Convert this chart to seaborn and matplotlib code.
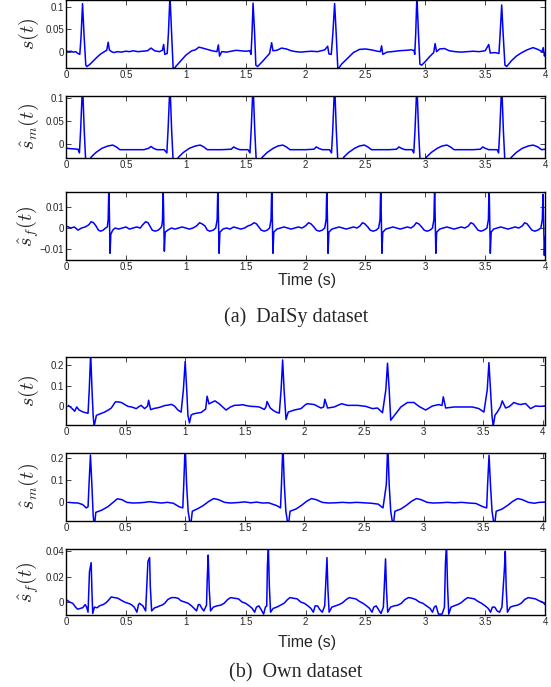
import numpy as np
import seaborn as sns
import matplotlib
matplotlib.use("Agg")
import matplotlib.pyplot as plt

# ---- (a) DaISy dataset ----
t_a1 = [0.00, 0.02, 0.04, 0.06, 0.08, 0.10, 0.115, 0.125, 0.138, 0.150, 0.165, 0.175, 0.20, 0.23, 0.26, 0.29,
        0.32, 0.34, 0.352, 0.362, 0.38, 0.40, 0.43, 0.46, 0.50, 0.53, 0.56, 0.60, 0.64, 0.68, 0.71, 0.74,
        0.78, 0.805, 0.815, 0.825, 0.845, 0.855, 0.868, 0.882, 0.895, 0.92, 0.96, 1.00, 1.05, 1.08, 1.11,
        1.14, 1.18, 1.22, 1.26, 1.272, 1.282, 1.30, 1.34, 1.38, 1.42, 1.46, 1.50, 1.535, 1.545, 1.553,
        1.562, 1.575, 1.585, 1.60, 1.64, 1.68, 1.70, 1.717, 1.728, 1.76, 1.80, 1.84, 1.88, 1.92, 1.96,
        2.00, 2.05, 2.10, 2.16, 2.185, 2.195, 2.215, 2.228, 2.243, 2.256, 2.27, 2.30, 2.35, 2.40, 2.45,
        2.50, 2.55, 2.60, 2.625, 2.635, 2.645, 2.68, 2.72, 2.78, 2.84, 2.88, 2.905, 2.912, 2.920, 2.930,
        2.943, 2.955, 2.97, 3.00, 3.04, 3.07, 3.082, 3.094, 3.12, 3.16, 3.20, 3.25, 3.30, 3.35, 3.40,
        3.45, 3.50, 3.530, 3.542, 3.58, 3.615, 3.625, 3.638, 3.650, 3.665, 3.68, 3.72, 3.76, 3.80, 3.85,
        3.90, 3.94, 3.975, 3.985, 3.995, 4.00]
s_a1 = [0.002, 0.000, 0.001, -0.001, 0.000, -0.004, -0.006, 0.030, 0.107, 0.040, -0.030, -0.033, -0.028,
        -0.020, -0.012, -0.005, 0.000, 0.003, 0.021, 0.004, 0.000, -0.002, 0.000, -0.001, 0.001, 0.000,
        0.002, 0.000, 0.001, 0.002, 0.008, 0.002, 0.000, 0.003, 0.016, -0.006, -0.004, 0.040, 0.125,
        0.040, -0.040, -0.032, -0.020, -0.008, 0.002, 0.004, 0.010, 0.008, 0.005, 0.002, 0.000, 0.015,
        -0.010, 0.000, -0.001, 0.001, 0.003, 0.002, 0.001, 0.002, -0.006, 0.040, 0.108, 0.040, -0.030,
        -0.033, -0.022, -0.010, -0.004, 0.020, 0.002, 0.003, 0.008, 0.006, 0.002, 0.000, -0.001, 0.000,
        0.001, 0.000, 0.004, 0.012, -0.005, -0.006, 0.040, 0.107, 0.040, -0.040, -0.028, -0.015, -0.002,
        0.005, 0.006, 0.004, 0.001, 0.000, 0.013, -0.006, -0.001, 0.000, 0.002, 0.003, 0.004, 0.003,
        -0.006, 0.040, 0.125, 0.040, -0.028, -0.030, -0.022, -0.010, -0.002, 0.018, 0.000, 0.006, 0.007,
        0.002, 0.000, -0.001, 0.000, 0.001, 0.000, 0.002, 0.016, -0.003, -0.002, -0.004, 0.040, 0.104,
        0.040, -0.030, -0.033, -0.020, -0.010, -0.003, 0.004, 0.009, 0.005, 0.000, 0.009, -0.010, -0.005]

t_a2 = [0.00, 0.05, 0.10, 0.112, 0.122, 0.138, 0.152, 0.165, 0.185, 0.21, 0.25, 0.30, 0.35, 0.39, 0.42,
        0.45, 0.55, 0.65, 0.69, 0.71, 0.73, 0.76, 0.82, 0.842, 0.852, 0.868, 0.882, 0.895, 0.915, 0.94,
        0.98, 1.03, 1.08, 1.12, 1.15, 1.18, 1.30, 1.38, 1.40, 1.42, 1.45, 1.52, 1.536, 1.546, 1.562,
        1.576, 1.589, 1.609, 1.64, 1.68, 1.73, 1.77, 1.81, 1.84, 1.87, 2.00, 2.07, 2.09, 2.11, 2.14,
        2.20, 2.217, 2.227, 2.243, 2.257, 2.270, 2.290, 2.32, 2.36, 2.41, 2.45, 2.49, 2.52, 2.55, 2.70,
        2.76, 2.78, 2.80, 2.83, 2.89, 2.904, 2.914, 2.930, 2.944, 2.957, 2.977, 3.01, 3.05, 3.10, 3.14,
        3.18, 3.21, 3.24, 3.40, 3.46, 3.48, 3.50, 3.53, 3.60, 3.612, 3.622, 3.638, 3.652, 3.665, 3.685,
        3.72, 3.76, 3.81, 3.86, 3.90, 3.94, 3.97, 4.00]
s_a2 = [-0.009, -0.010, -0.011, -0.019, 0.030, 0.130, 0.030, -0.040, -0.040, -0.028, -0.018, -0.009,
        -0.004, -0.002, -0.006, -0.012, -0.012, -0.012, -0.009, -0.005, -0.009, -0.012, -0.012, -0.019,
        0.030, 0.130, 0.030, -0.040, -0.040, -0.028, -0.018, -0.009, -0.004, -0.002, -0.006, -0.012,
        -0.012, -0.011, -0.006, -0.009, -0.012, -0.012, -0.019, 0.030, 0.130, 0.030, -0.040, -0.040,
        -0.028, -0.018, -0.009, -0.004, -0.002, -0.006, -0.012, -0.012, -0.011, -0.006, -0.009, -0.012,
        -0.012, -0.019, 0.030, 0.130, 0.030, -0.040, -0.040, -0.028, -0.018, -0.009, -0.004, -0.002,
        -0.006, -0.012, -0.012, -0.011, -0.006, -0.009, -0.012, -0.012, -0.019, 0.030, 0.130, 0.030,
        -0.040, -0.040, -0.028, -0.018, -0.009, -0.004, -0.002, -0.006, -0.012, -0.012, -0.011, -0.006,
        -0.009, -0.012, -0.012, -0.019, 0.030, 0.130, 0.030, -0.040, -0.040, -0.028, -0.018, -0.009,
        -0.004, -0.002, -0.006, -0.012, -0.011]

t_a3 = [0.00, 0.02, 0.04, 0.07, 0.10, 0.13, 0.16, 0.19, 0.21, 0.23, 0.25, 0.27, 0.29, 0.31, 0.33, 0.345,
        0.352, 0.358, 0.364, 0.368, 0.374, 0.39, 0.41, 0.44, 0.47, 0.50, 0.53, 0.56, 0.59, 0.62, 0.64,
        0.665, 0.685, 0.70, 0.72, 0.745, 0.77, 0.79, 0.80, 0.806, 0.811, 0.817, 0.821, 0.828,
        0.85, 0.88, 0.91, 0.94, 0.97, 1.00, 1.03, 1.06, 1.09, 1.115, 1.135, 1.16, 1.18, 1.20, 1.23, 1.25,
        1.262, 1.268, 1.274, 1.278, 1.285,
        1.31, 1.34, 1.37, 1.40, 1.43, 1.46, 1.49, 1.52, 1.545, 1.57, 1.59, 1.61, 1.63, 1.655, 1.68, 1.70,
        1.712, 1.718, 1.724, 1.728, 1.735,
        1.76, 1.79, 1.82, 1.85, 1.88, 1.91, 1.94, 1.97, 2.00, 2.025, 2.045, 2.07, 2.09, 2.115, 2.14, 2.16,
        2.172, 2.178, 2.184, 2.188, 2.195,
        2.22, 2.25, 2.28, 2.31, 2.34, 2.37, 2.40, 2.43, 2.455, 2.475, 2.495, 2.52, 2.54, 2.565, 2.59, 2.61,
        2.622, 2.628, 2.634, 2.638, 2.645,
        2.67, 2.70, 2.73, 2.76, 2.79, 2.82, 2.85, 2.88, 2.905, 2.925, 2.945, 2.97, 2.99, 3.015, 3.04, 3.06,
        3.072, 3.078, 3.084, 3.088, 3.095,
        3.12, 3.15, 3.18, 3.21, 3.24, 3.27, 3.30, 3.33, 3.36, 3.38, 3.40, 3.42, 3.44, 3.465, 3.49, 3.515,
        3.527, 3.533, 3.539, 3.543, 3.55,
        3.57, 3.60, 3.63, 3.66, 3.69, 3.72, 3.75, 3.78, 3.81, 3.83, 3.85, 3.87, 3.89, 3.915, 3.94, 3.965,
        3.977, 3.983, 3.989, 3.994, 4.00]
s_a3 = [0.001, 0.0005, 0.0, 0.0005, -0.001, 0.0, 0.0005, 0.0015, 0.003, 0.0025, 0.001, -0.001, -0.0015,
        -0.001, 0.0, 0.0005, 0.004, 0.020, 0.0, -0.012, -0.003, -0.001, 0.0, -0.0005, 0.0, 0.0005,
        -0.0005, 0.0, 0.0005, 0.0, 0.0015, 0.003, 0.0025, 0.001, -0.001, -0.0015, -0.001, 0.0, 0.001,
        0.004, 0.020, 0.0, -0.011, -0.002,
        -0.001, 0.0, -0.0005, 0.0, 0.0005, 0.0, -0.0005, 0.0, 0.001, 0.0025, 0.002, 0.001, -0.001,
        -0.0015, -0.001, 0.0, 0.004, 0.020, 0.0, -0.012, -0.002,
        -0.0005, 0.0, -0.0005, 0.0005, 0.0, -0.0005, 0.0, 0.001, 0.0015, 0.0025, 0.002, 0.0005, -0.001,
        -0.0015, -0.001, 0.0, 0.004, 0.020, 0.0, -0.012, -0.002,
        -0.0005, 0.0, 0.0005, 0.0, -0.0005, 0.0, 0.0005, 0.0, 0.001, 0.0025, 0.002, 0.0005, -0.001,
        -0.0015, -0.001, 0.0, 0.004, 0.020, 0.0, -0.012, -0.002,
        -0.0005, 0.0, 0.0005, 0.0, -0.0005, 0.0, 0.0005, 0.0, 0.001, 0.0025, 0.002, 0.0005, -0.001,
        -0.0015, -0.001, 0.0, 0.004, 0.020, 0.0, -0.012, -0.002,
        -0.0005, 0.0, 0.0005, 0.0, -0.0005, 0.0, 0.0005, 0.0, 0.001, 0.0025, 0.002, 0.0005, -0.001,
        -0.0015, -0.001, 0.0, 0.004, 0.020, 0.0, -0.012, -0.002,
        -0.0005, 0.0, 0.0005, 0.0, -0.0005, 0.0, 0.0005, 0.0, 0.001, 0.0025, 0.002, 0.0005, -0.001,
        -0.0015, -0.001, 0.0, 0.004, 0.020, 0.0, -0.012, -0.002,
        -0.0005, 0.0, 0.0005, 0.0, -0.0005, 0.0, 0.0005, 0.0, 0.001, 0.0025, 0.002, 0.0005, -0.001,
        -0.0015, -0.001, 0.0, 0.004, 0.016, 0.0, -0.013, -0.004]

# ---- (b) Own dataset ----
t_b1 = [0.02, 0.05, 0.073, 0.09, 0.11, 0.145, 0.185, 0.195, 0.207, 0.218, 0.228, 0.236, 0.255, 0.29,
        0.324, 0.355, 0.38, 0.414, 0.44, 0.464, 0.49, 0.52, 0.55, 0.59, 0.61, 0.63, 0.66, 0.685, 0.693,
        0.71, 0.74, 0.77, 0.80, 0.827, 0.855, 0.883, 0.91, 0.939, 0.966, 0.985, 1.0, 1.013, 1.023, 1.036,
        1.05, 1.064, 1.10, 1.134, 1.16, 1.172, 1.184, 1.2, 1.225, 1.25, 1.287, 1.315, 1.343, 1.38, 1.413,
        1.45, 1.483, 1.52, 1.553, 1.59, 1.622, 1.664, 1.678, 1.687, 1.714, 1.74, 1.762, 1.79, 1.805,
        1.818, 1.83, 1.846, 1.865, 1.915, 1.972, 2.013, 2.028, 2.083, 2.139, 2.162, 2.172, 2.195, 2.25,
        2.312, 2.363, 2.446, 2.516, 2.572, 2.614, 2.656, 2.684, 2.698, 2.712, 2.725, 2.767, 2.81, 2.865,
        2.92, 2.962, 3.018, 3.075, 3.13, 3.155, 3.166, 3.186, 3.256, 3.34, 3.41, 3.465, 3.507, 3.535,
        3.549, 3.562, 3.575, 3.585, 3.60, 3.619, 3.645, 3.661, 3.689, 3.72, 3.758, 3.79, 3.814, 3.856,
        3.898, 3.94, 3.98, 4.02]
s_b1 = [0.003, -0.012, -0.026, -0.005, -0.02, -0.03, -0.036, 0.08, 0.26, 0.08, -0.05, -0.10, -0.046,
        -0.038, -0.03, -0.02, -0.01, 0.02, 0.02, 0.017, 0.008, -0.002, -0.005, -0.013, -0.004, 0.003,
        -0.013, 0.0, 0.028, -0.018, -0.012, -0.009, -0.004, 0.002, 0.004, 0.008, 0.0, -0.02, -0.03,
        0.08, 0.218, 0.08, -0.046, -0.083, -0.045, -0.04, -0.035, -0.032, -0.02, -0.015, 0.048, 0.01,
        0.018, 0.025, 0.01, -0.005, -0.02, -0.005, 0.003, 0.004, 0.006, 0.001, -0.002, -0.003, -0.005,
        -0.017, -0.005, 0.022, -0.01, -0.022, -0.03, -0.035, 0.08, 0.226, 0.08, -0.066, -0.03, -0.02,
        -0.013, 0.008, 0.011, 0.007, -0.01, -0.005, 0.033, -0.01, -0.005, 0.011, 0.003, 0.003, -0.002,
        -0.013, -0.01, -0.033, 0.08, 0.21, 0.08, -0.07, -0.038, -0.005, 0.017, 0.017, -0.002, -0.02,
        0.0, 0.007, 0.002, 0.045, -0.01, -0.005, -0.005, -0.005, -0.013, -0.03, 0.08, 0.213, 0.08,
        -0.05, -0.10, -0.045, -0.03, -0.005, 0.025, -0.01, -0.003, 0.017, 0.01, 0.007, 0.012, -0.013,
        0.0, -0.002, 0.0]

t_b2 = [0.02, 0.06, 0.10, 0.14, 0.17, 0.185, 0.193, 0.205, 0.217, 0.228, 0.238, 0.25, 0.30, 0.35, 0.40,
        0.43, 0.47, 0.51, 0.56, 0.62, 0.66, 0.70, 0.75, 0.80, 0.85, 0.90, 0.95, 0.98, 0.988, 1.0, 1.012,
        1.025, 1.045, 1.06, 1.10, 1.15, 1.20, 1.24, 1.28, 1.33, 1.38, 1.44, 1.50, 1.55, 1.60, 1.65, 1.70,
        1.77, 1.80, 1.808, 1.820, 1.832, 1.845, 1.865, 1.88, 1.93, 1.98, 2.02, 2.06, 2.10, 2.15, 2.20,
        2.26, 2.32, 2.38, 2.44, 2.50, 2.56, 2.62, 2.66, 2.688, 2.700, 2.712, 2.725, 2.745, 2.76, 2.81,
        2.86, 2.90, 2.94, 2.98, 3.03, 3.08, 3.14, 3.20, 3.26, 3.32, 3.38, 3.44, 3.50, 3.53, 3.538, 3.550,
        3.562, 3.575, 3.595, 3.61, 3.66, 3.71, 3.75, 3.79, 3.83, 3.88, 3.93, 3.97, 4.02]
s_b2 = [0.0, -0.002, -0.003, -0.01, -0.025, -0.02, 0.08, 0.213, 0.08, -0.06, -0.11, -0.045, -0.035,
        -0.02, 0.002, 0.016, 0.012, 0.0, -0.003, -0.002, 0.0, 0.003, 0.0, -0.003, 0.0, -0.004, -0.02,
        -0.025, 0.08, 0.26, 0.08, -0.04, -0.11, -0.04, -0.03, -0.015, 0.005, 0.017, 0.012, 0.0, -0.003,
        -0.001, 0.002, -0.002, 0.001, -0.003, -0.002, -0.015, -0.025, 0.08, 0.26, 0.08, -0.04, -0.11,
        -0.04, -0.03, -0.012, 0.005, 0.017, 0.012, 0.0, -0.003, -0.002, 0.0, -0.002, 0.0, -0.002,
        -0.004, -0.008, -0.025, 0.08, 0.26, 0.08, -0.04, -0.11, -0.04, -0.03, -0.012, 0.005, 0.017,
        0.012, 0.0, -0.003, -0.002, 0.0, -0.002, 0.0, -0.003, -0.005, -0.02, -0.025, 0.08, 0.212, 0.08,
        -0.04, -0.11, -0.04, -0.03, -0.012, 0.005, 0.017, 0.012, 0.0, -0.004, 0.0, 0.001]

t_b3 = [0.0, 0.03, 0.056, 0.08, 0.097, 0.12, 0.139, 0.16, 0.172, 0.184, 0.196, 0.21, 0.216, 0.223, 0.237,
        0.26, 0.279, 0.31, 0.335, 0.36, 0.377, 0.405, 0.433, 0.46, 0.489, 0.52, 0.545, 0.57, 0.592, 0.605,
        0.614, 0.642, 0.665, 0.684, 0.698, 0.704, 0.715, 0.74, 0.76, 0.782, 0.80, 0.824, 0.85, 0.88,
        0.91, 0.935, 0.96, 0.992, 1.02, 1.048, 1.07, 1.09, 1.105, 1.117, 1.135, 1.151, 1.173, 1.18,
        1.187, 1.196, 1.207, 1.23, 1.26, 1.29, 1.32, 1.35, 1.375, 1.41, 1.44, 1.47, 1.50, 1.53, 1.555,
        1.575, 1.59, 1.61, 1.63, 1.65, 1.665, 1.676, 1.682, 1.69, 1.698, 1.708, 1.73, 1.76, 1.79, 1.82,
        1.85, 1.87, 1.90, 1.93, 1.96, 1.99, 2.02, 2.045, 2.065, 2.08, 2.10, 2.12, 2.14, 2.16, 2.172,
        2.179, 2.187, 2.197, 2.22, 2.25, 2.28, 2.31, 2.34, 2.365, 2.39, 2.42, 2.45, 2.48, 2.51, 2.535,
        2.555, 2.57, 2.59, 2.61, 2.63, 2.65, 2.661, 2.668, 2.676, 2.686, 2.71, 2.74, 2.77, 2.80, 2.83,
        2.86, 2.89, 2.92, 2.95, 2.98, 3.01, 3.04, 3.06, 3.075, 3.09, 3.11, 3.14, 3.16, 3.168, 3.177,
        3.186, 3.196, 3.215, 3.24, 3.27, 3.30, 3.33, 3.355, 3.38, 3.41, 3.44, 3.47, 3.50, 3.525, 3.545,
        3.56, 3.58, 3.60, 3.62, 3.64, 3.66, 3.668, 3.676, 3.686, 3.71, 3.74, 3.77, 3.80, 3.83, 3.86,
        3.89, 3.92, 3.95, 3.98, 4.0]
s_b3 = [0.002, 0.0, -0.001, -0.004, -0.0056, -0.005, -0.0045, -0.002, -0.004, -0.008, 0.024, 0.031,
        0.01, -0.009, -0.004, -0.0045, -0.003, -0.002, -0.0005, 0.002, 0.004, 0.0035, 0.003, 0.0015,
        0.0, -0.001, -0.002, -0.004, -0.008, -0.002, -0.001, -0.003, -0.007, 0.032, 0.035, 0.012,
        -0.007, -0.0045, -0.004, -0.003, -0.0025, -0.001, 0.002, 0.0035, 0.0035, 0.003, 0.001, 0.0,
        -0.001, -0.003, -0.005, -0.007, -0.002, -0.002, -0.005, -0.007, -0.0025, 0.02, 0.037, 0.01,
        -0.007, -0.004, -0.003, -0.0025, -0.001, 0.002, 0.0035, 0.003, 0.0025, 0.0, -0.001, -0.003,
        -0.005, -0.008, -0.004, -0.003, -0.006, -0.0095, -0.004, -0.003, 0.03, 0.042, 0.012, -0.008,
        -0.005, -0.004, -0.0025, -0.001, 0.002, 0.0035, 0.003, 0.0025, 0.0, -0.001, -0.003, -0.005,
        -0.008, -0.003, -0.003, -0.006, -0.008, -0.003, 0.02, 0.035, 0.01, -0.008, -0.004, -0.003,
        -0.002, -0.0005, 0.002, 0.0035, 0.003, 0.0025, 0.0005, -0.001, -0.003, -0.005, -0.008, -0.004,
        -0.003, -0.006, -0.009, -0.004, 0.02, 0.034, 0.01, -0.008, -0.004, -0.003, -0.0025, -0.001,
        0.002, 0.0035, 0.003, 0.002, 0.0, -0.001, -0.003, -0.005, -0.008, -0.004, -0.003, -0.0095,
        -0.0095, -0.004, 0.03, 0.046, 0.012, -0.0095, -0.004, -0.003, -0.002, -0.0005, 0.002, 0.0035,
        0.003, 0.0025, 0.0005, -0.001, -0.003, -0.005, -0.008, -0.004, -0.004, -0.007, -0.008, -0.004,
        0.025, 0.040, 0.01, -0.008, -0.004, -0.003, -0.0025, -0.001, 0.002, 0.0035, 0.003, 0.0025,
        0.001, 0.0, -0.002]

xticks = [0, 0.5, 1, 1.5, 2, 2.5, 3, 3.5, 4]
xticklabels = ["0", "0.5", "1", "1.5", "2", "2.5", "3", "3.5", "4"]

sns.set_style("ticks")
plt.rcParams["font.family"] = ["Liberation Sans", "DejaVu Sans"]
plt.rcParams["mathtext.fontset"] = "cm"

fig = plt.figure(figsize=(5.51, 6.87), dpi=100)

# (x, y, ylim, yticks, ylabel, xlim, axes rect)
panels = [
    (t_a1, s_a1, (-0.037, 0.115), [0, 0.05, 0.1], r"$s(t)$", (0, 4), [0.1198, 0.9006, 0.8694, 0.0994]),
    (t_a2, s_a2, (-0.030, 0.104), [0, 0.05, 0.1], r"$\hat{s}_m(t)$", (0, 4), [0.1198, 0.7700, 0.8694, 0.0902]),
    (t_a3, s_a3, (-0.0152, 0.0171), [-0.01, 0, 0.01], r"$\hat{s}_f(t)$", (0, 4), [0.1198, 0.6215, 0.8694, 0.0990]),
    (t_b1, s_b1, (-0.092, 0.242), [0, 0.1, 0.2], r"$s(t)$", (0.02, 4.02), [0.1198, 0.3818, 0.8694, 0.0990]),
    (t_b2, s_b2, (-0.084, 0.222), [0, 0.1, 0.2], r"$\hat{s}_m(t)$", (0.02, 4.02), [0.1198, 0.2416, 0.8694, 0.0990]),
    (t_b3, s_b3, (-0.0102, 0.0418), [0, 0.02, 0.04], r"$\hat{s}_f(t)$", (0, 4), [0.1198, 0.1048, 0.8694, 0.0961]),
]

for tx, sy, ylim, yt, ylab, xlim, rect in panels:
    ax = fig.add_axes(rect)
    sns.lineplot(x=tx, y=sy, ax=ax, color="#0000ff", linewidth=1.1, sort=False, estimator=None)
    ax.set_xlim(*xlim)
    ax.set_ylim(*ylim)
    ax.set_xticks(xticks)
    ax.set_xticklabels(xticklabels)
    ax.set_yticks(yt)
    ax.set_yticklabels([("%g" % v).replace("-", "\u2212") for v in yt])
    ax.tick_params(direction="in", top=True, right=True, length=3.5, width=0.6, labelsize=7, pad=1.5)
    for sp in ax.spines.values():
        sp.set_linewidth(1.0)
        sp.set_color("black")
    ax.set_xlabel("")
    ax.set_ylabel(ylab, fontsize=14.5)
    ax.yaxis.set_label_coords(-0.052, 0.5)

fig.text(0.557, 1 - 281 / 687, "Time (s)", ha="center", va="center", fontsize=11.5)
fig.text(0.557, 1 - 643 / 687, "Time (s)", ha="center", va="center", fontsize=11.5)
fig.text(0.537, 1 - 317 / 687, "(a)  DaISy dataset", ha="center", va="center", fontsize=14.5,
         family=["Liberation Serif", "DejaVu Serif"])
fig.text(0.537, 1 - 673 / 687, "(b)  Own dataset", ha="center", va="center", fontsize=14.5,
         family=["Liberation Serif", "DejaVu Serif"])

fig.savefig("out.png", dpi=100)
